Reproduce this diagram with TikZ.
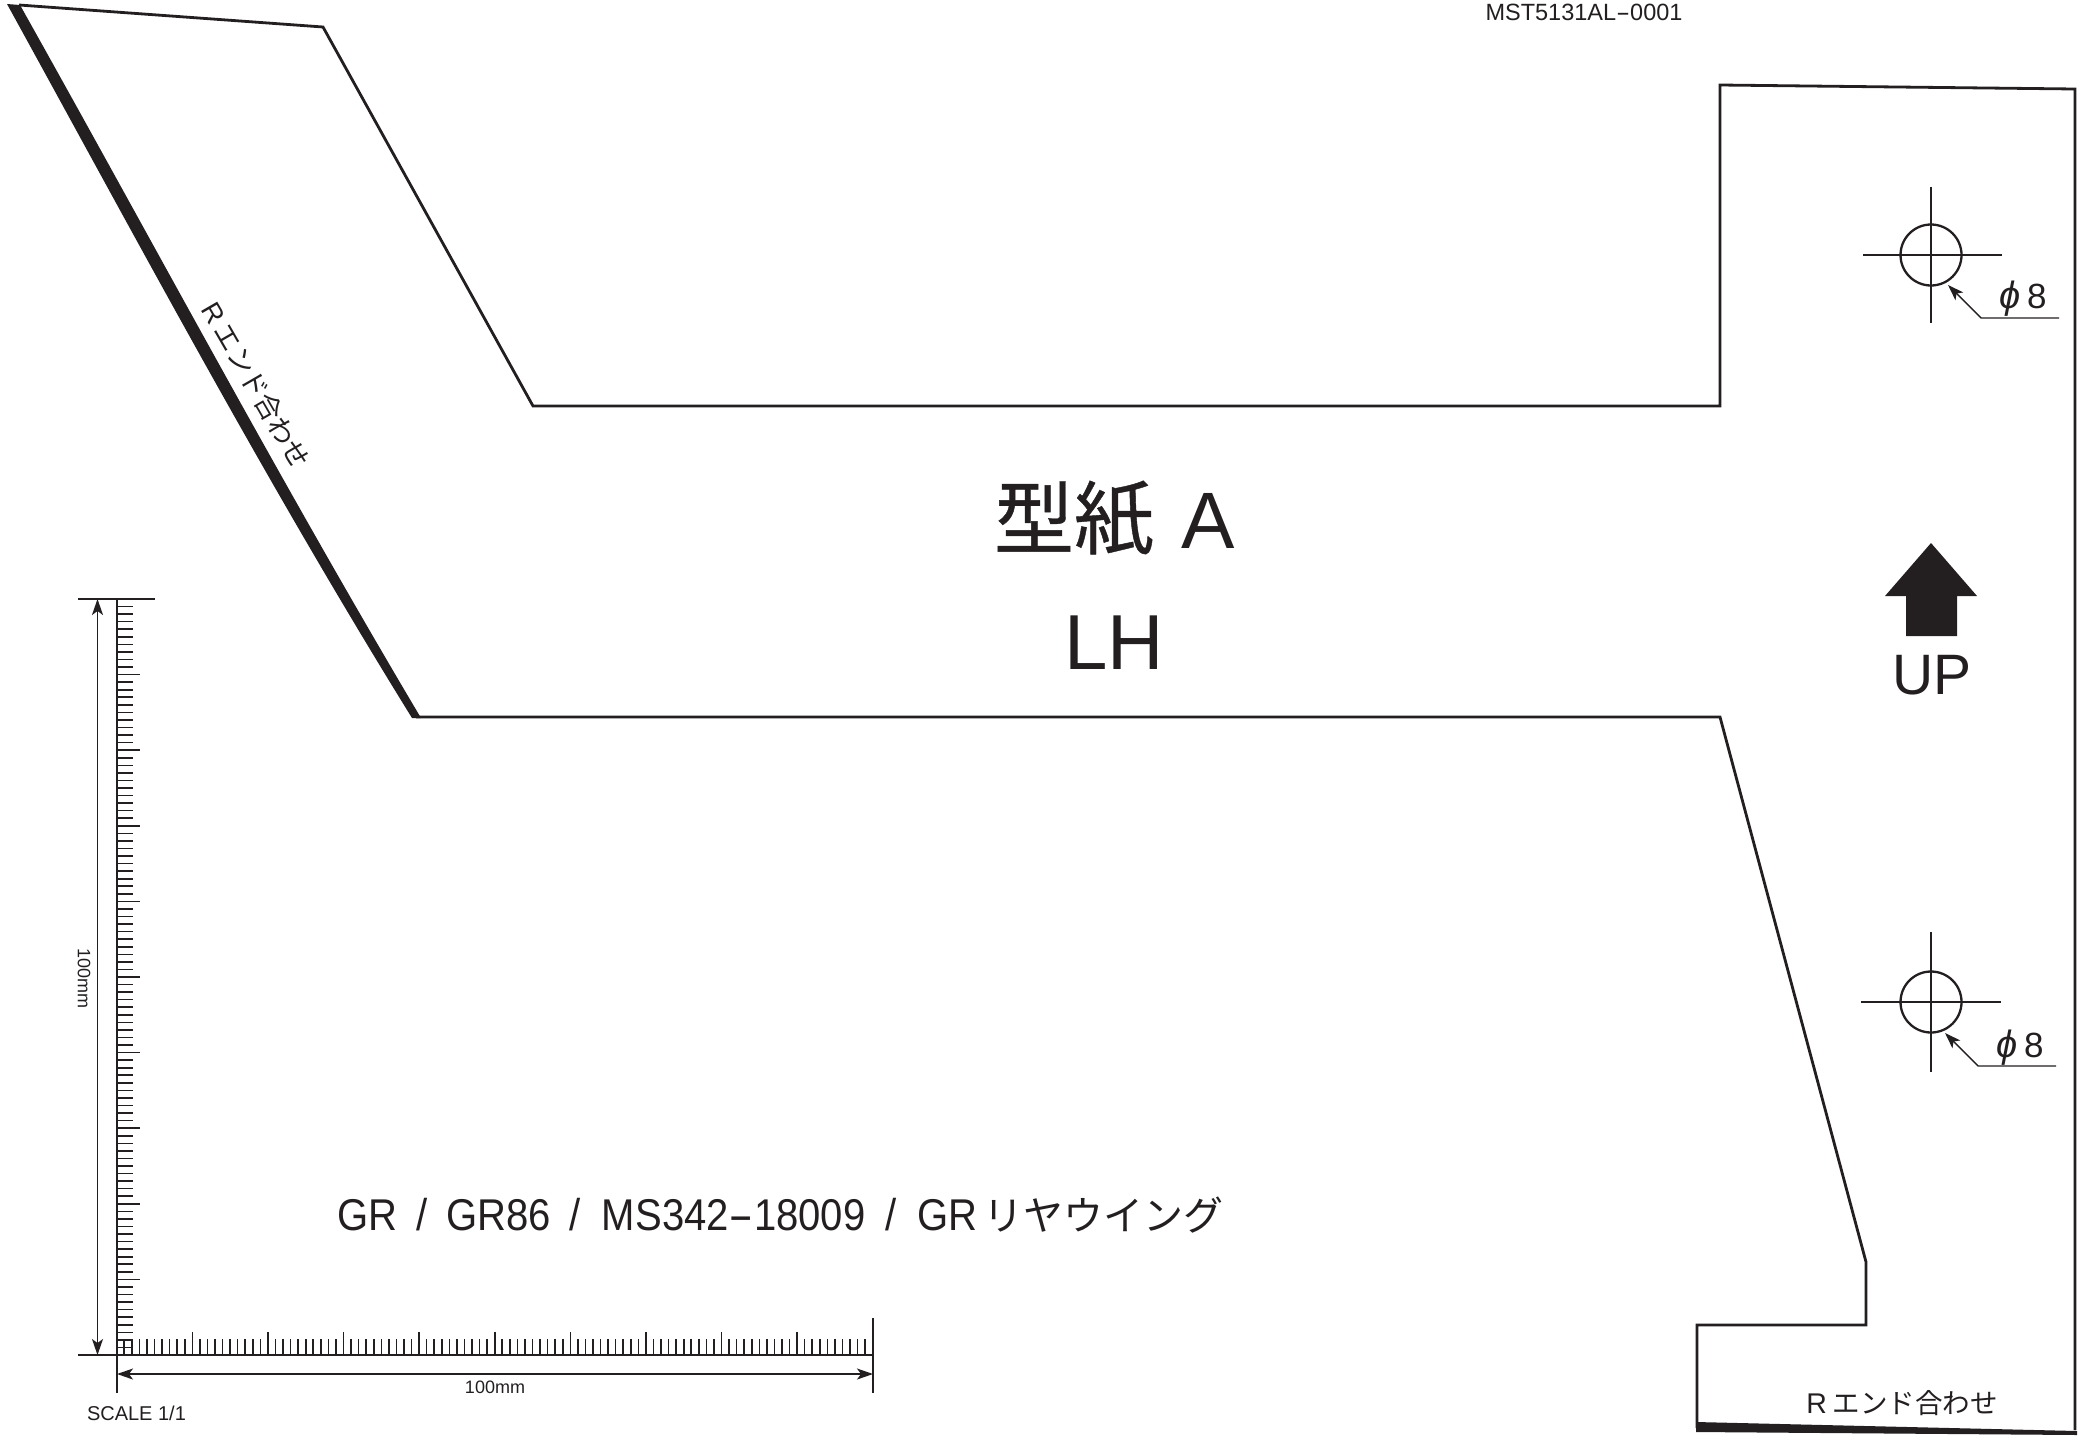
\documentclass[tikz,border=0pt]{standalone}
\usepackage{fontspec}
\setmainfont{Liberation Sans}
\newfontfamily\narrowfont[FakeStretch=0.9]{Liberation Sans}
\newfontfamily\cjk{Noto Sans CJK JP}
\newfontfamily\cjkbold[FakeBold=0.5]{Noto Sans CJK JP}
\usetikzlibrary{arrows.meta}
\definecolor{ink}{HTML}{231F20}
\newcommand{\fsz}[1]{\fontsize{#1}{#1}\selectfont}
\newcommand{\widehy}[1]{\scalebox{#1}[1]{-}}
\tikzset{
  outline/.style={draw=ink,line width=2.8pt,line join=miter},
  heavy/.style={fill=ink,draw=none},
  thinline/.style={draw=ink,line width=1.6pt},
  holeline/.style={draw=ink,line width=2.3pt},
  dimarrow/.style={draw=ink,line width=1.4pt,-{Stealth[length=16pt,width=11pt,inset=4pt]}},
  dimboth/.style={draw=ink,line width=1.4pt,{Stealth[length=16pt,width=11pt,inset=4pt]}-{Stealth[length=16pt,width=11pt,inset=4pt]}},
  lbl/.style={inner sep=0pt,outer sep=0pt,text=ink,anchor=base},
}
\begin{document}
\begin{tikzpicture}[x=1pt,y=-1pt]
\useasboundingbox (0,0) rectangle (2087,1435);
% template outline
\draw[outline] (19,5) -- (323,27) -- (533,406) -- (1720,406) -- (1720,85) -- (2075,89) -- (2075,1430);
\draw[outline] (1697,1428) -- (1697,1325) -- (1866,1325) -- (1866,1262) -- (1720,717) -- (416,717);
% heavy alignment edges
\fill[heavy] (7,4) -- (20,5) .. controls (153,242) and (279,479) .. (421,718) -- (412,718) .. controls (264,479) and (138,242) .. (7,4) -- cycle;
\fill[heavy] (1696,1422) -- (2077,1431) -- (2077,1435) -- (1696,1432) -- cycle;
% main labels
\node[lbl,anchor=base west] (title) at (994,548) {\fsz{80}{\cjkbold 型紙}\hspace{27pt}A};
\node[lbl] (side) at (1114,669) {\fsz{78}LH};
\node[lbl] (up) at (1932,694) {\fsz{57}UP};
\fill[heavy] (1931,543) -- (1977,596) -- (1957,596) -- (1957,636) -- (1906,636) -- (1906,596) -- (1885,596) -- cycle;
\node[lbl] (docno) at (1584,20) {\fsz{23.5}MST5131AL\widehy{1.8}0001};
\node[lbl,anchor=base west] (model) at (337,1230) {\fsz{44.5}\narrowfont GR\hspace{19pt}/\hspace{19pt}GR86\hspace{19pt}/\hspace{21pt}MS342\widehy{1.9}18009\hspace{20pt}/\hspace{21pt}GR\hspace{6pt}{\cjk\fsz{40}リヤウイング}};
\node[lbl] (rend) at (1902,1413) {\fsz{28.5}R\hspace{0.2em}{\cjk\fsz{27.5}エンド合わせ}};
\node[inner sep=0pt,text=ink,rotate=-60] (rendb) at (256,385) {\fsz{27}R\hspace{0.2em}{\cjk エンド合わせ}};
% upper hole
\node[circle,holeline,minimum size=61pt,inner sep=0pt] (h1) at (1931,255) {};
\draw[thinline] (1863,255) -- (2002,255) (1931,187) -- (1931,323);
\coordinate (t1) at (1948,285);
\coordinate (e1) at (1981,318);
\coordinate (f1) at (2059,318);
\draw[dimarrow] (f1) -- (e1) -- (t1);
\node[lbl,anchor=base west] (d1) at (1999,308) {\fsz{38}{\itshape ϕ}\hspace{7pt}{\fsz{35}8}};
% lower hole
\node[circle,holeline,minimum size=61pt,inner sep=0pt] (h2) at (1931,1002) {};
\draw[thinline] (1861,1002) -- (2001,1002) (1931,932) -- (1931,1072);
\coordinate (t2) at (1945,1033);
\coordinate (e2) at (1978,1066);
\coordinate (f2) at (2056,1066);
\draw[dimarrow] (f2) -- (e2) -- (t2);
\node[lbl,anchor=base west] (d2) at (1996,1057) {\fsz{38}{\itshape ϕ}\hspace{7pt}{\fsz{35}8}};
% ruler
\draw[thinline] (78,599) -- (155,599);
\draw[thinline] (78,1355) -- (873,1355);
\draw[thinline] (116.7,599) -- (116.7,1393);
\draw[thinline] (873,1318) -- (873,1393);
\foreach \k in {1,...,99}{
  \pgfmathsetmacro{\tick}{mod(\k,10)==0 ? 23 : 16}
  \draw[thinline] (116.7,1355-\k*7.56) -- ++(\tick,0);
  \draw[thinline] (116.7+\k*7.56,1355) -- ++(0,-\tick);
}
\coordinate (vt) at (97.5,599);
\coordinate (vb) at (97.5,1355);
\coordinate (hl) at (117,1374);
\coordinate (hr) at (873,1374);
\draw[dimboth] (vt) -- (vb);
\draw[dimboth] (hl) -- (hr);
\node[inner sep=0pt,text=ink,rotate=-90] (vlab) at (84,978) {\fsz{18}100mm};
\node[inner sep=0pt,text=ink] (hlab) at (495,1387) {\fsz{18}100mm};
\node[lbl,anchor=base west] (scale) at (87,1420) {\fsz{20}SCALE 1/1};
\end{tikzpicture}
\end{document}
